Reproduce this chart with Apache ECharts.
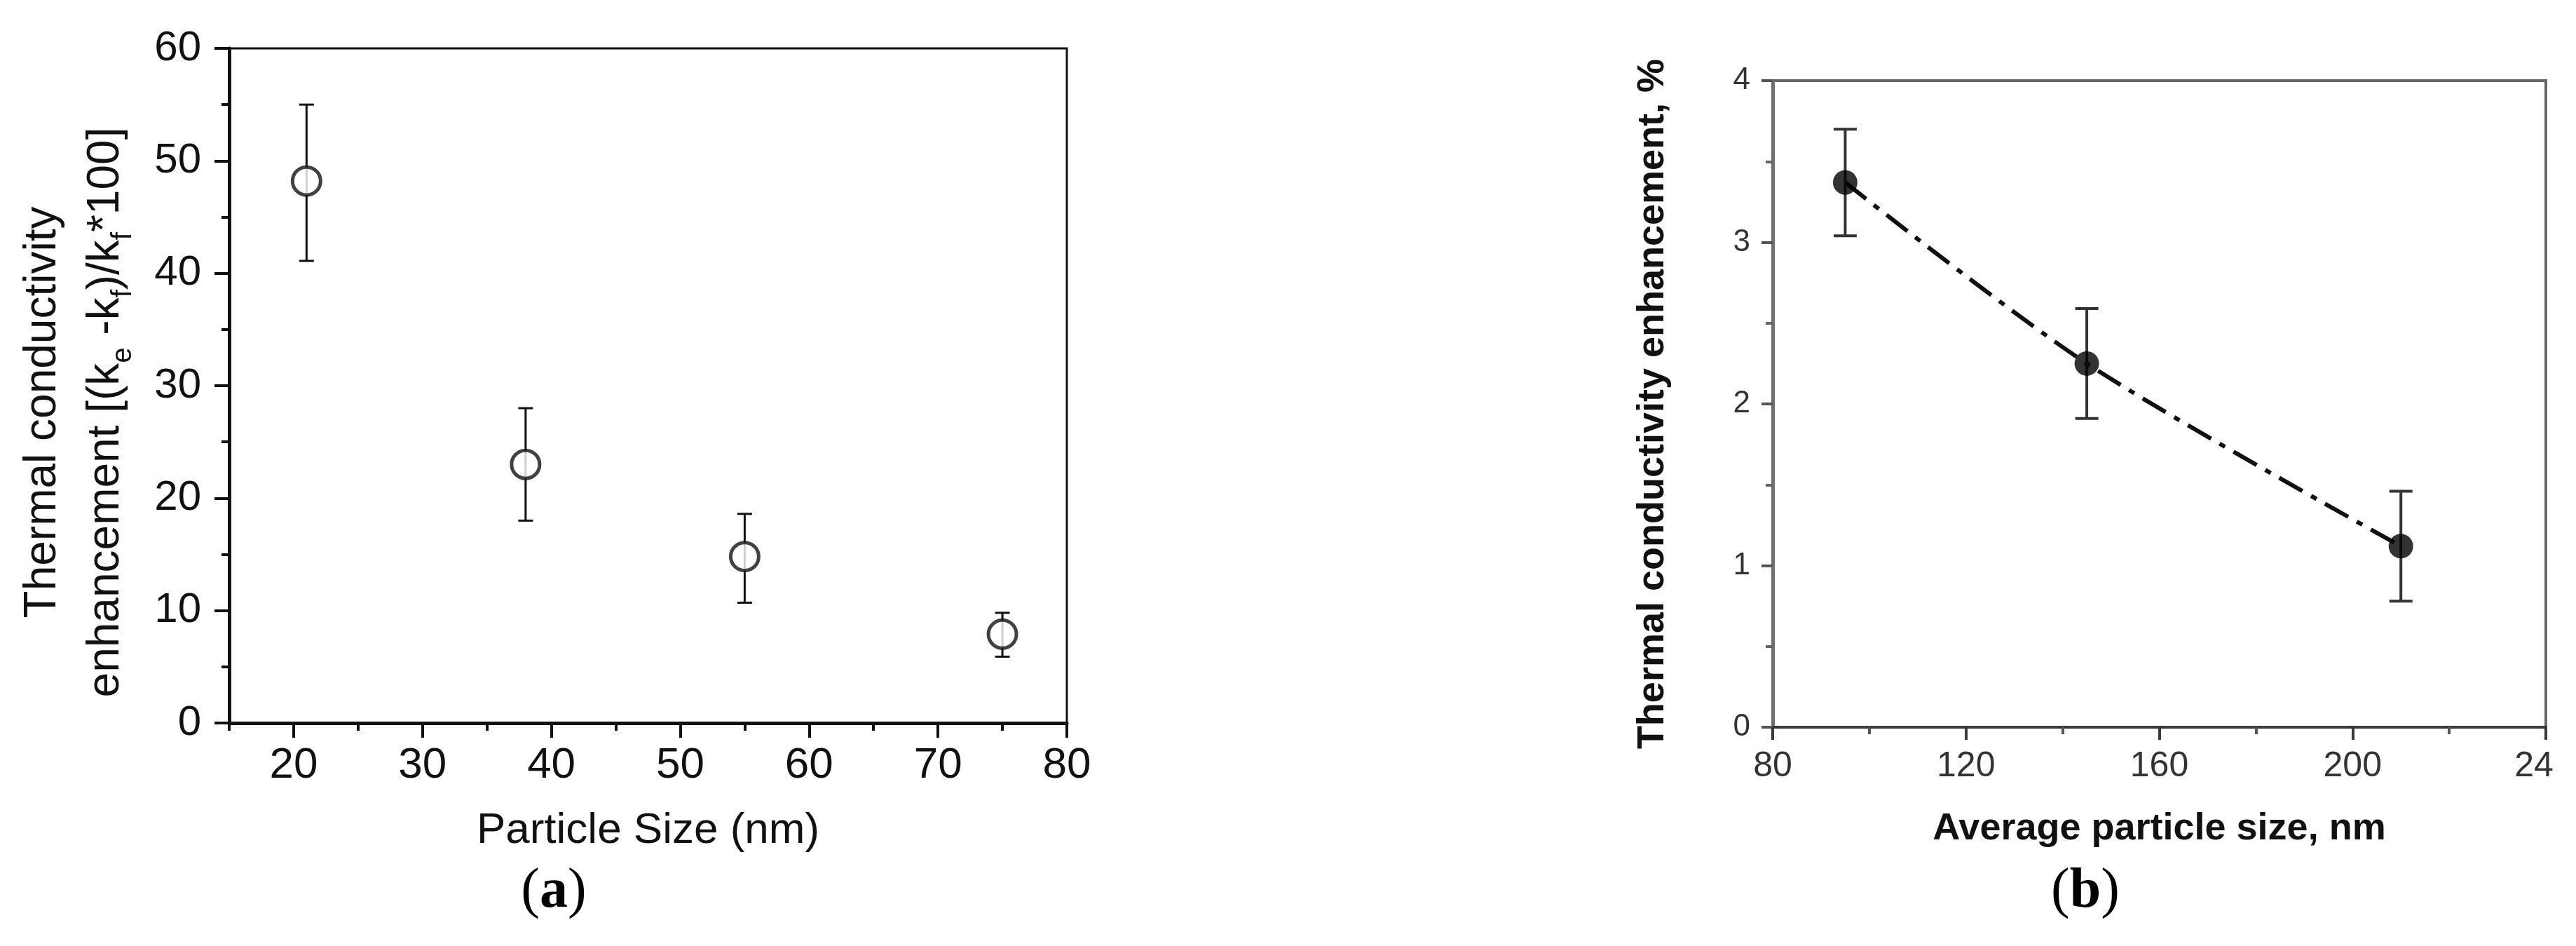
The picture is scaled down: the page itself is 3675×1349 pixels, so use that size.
<!DOCTYPE html>
<html>
<head>
<meta charset="utf-8">
<title>Thermal conductivity enhancement vs particle size</title>
<script src="https://cdn.jsdelivr.net/npm/echarts@6/dist/echarts.min.js"></script>
<style>
  html, body { margin: 0; padding: 0; background: #fff; }
  #chart { width: 3675px; height: 1349px; }
</style>
</head>
<body>
<div id="chart"></div>
<script>
// (a) particle size vs enhancement, open circles with error bars
var sizeA = [21, 38, 55, 75];
var enhA = [48.2, 23.0, 14.8, 7.9];
var lowA = [41.1, 18.0, 10.7, 5.9];
var highA = [55.0, 28.0, 18.6, 9.8];
var xMajorA = [20, 30, 40, 50, 60, 70, 80];

// (b) average particle size vs enhancement, filled circles + dash-dot curve
var sizeB = [95, 145, 210];
var enhB = [3.37, 2.25, 1.12];
var lowB = [3.04, 1.91, 0.78];
var highB = [3.70, 2.59, 1.46];
var xTicksB = [80, 120, 160, 200, 240];
var xTickTextB = ['80', '120', '160', '200', '24'];

(function () {
  var font = "'Liberation Sans', Arial, sans-serif";
  var serif = "'Liberation Serif', 'Times New Roman', serif";

  function pairs(xs, ys) {
    var out = [];
    for (var i = 0; i < xs.length; i++) out.push([xs[i], ys[i]]);
    return out;
  }
  function bars(xs, lo, hi) {
    var out = [];
    for (var i = 0; i < xs.length; i++) out.push([xs[i], lo[i], hi[i]]);
    return out;
  }

  // 误差棒：竖线 + 上下横帽
  function errorBar(color, width, cap) {
    return function (params, api) {
      var x = api.value(0);
      var lo = api.coord([x, api.value(1)]);
      var hi = api.coord([x, api.value(2)]);
      var st = { stroke: color, lineWidth: width };
      return {
        type: 'group',
        children: [
          { type: 'line', shape: { x1: lo[0], y1: lo[1], x2: hi[0], y2: hi[1] }, style: st },
          { type: 'line', shape: { x1: lo[0] - cap, y1: lo[1], x2: lo[0] + cap, y2: lo[1] }, style: st },
          { type: 'line', shape: { x1: hi[0] - cap, y1: hi[1], x2: hi[0] + cap, y2: hi[1] }, style: st }
        ]
      };
    };
  }

  var chart = echarts.init(document.getElementById('chart'));
  var option = {
    animation: false,
    backgroundColor: '#fff',
    grid: [
      { left: 327, top: 69, width: 1195, height: 962, show: true, borderColor: '#111', borderWidth: 3 },
      { left: 2529, top: 115, width: 1103, height: 922, show: true, borderColor: '#666', borderWidth: 4 }
    ],
    xAxis: [
      {
        gridIndex: 0, type: 'value', position: 'bottom', min: 15, max: 80, interval: 5,
        name: 'Particle Size (nm)', nameLocation: 'middle', nameGap: 123,
        nameTextStyle: { fontFamily: font, fontSize: 62, color: '#111' },
        axisLine: { onZero: false, lineStyle: { color: '#111', width: 5 } },
        axisTick: { length: 11, lineStyle: { color: '#111', width: 4 } },
        axisLabel: {
          margin: 30, fontFamily: font, fontSize: 62, color: '#111', showMinLabel: true, showMaxLabel: true,
          formatter: function (v) { return xMajorA.indexOf(v) >= 0 ? String(v) : ''; }
        },
        splitLine: { show: false }
      },
      {
        // long major ticks for panel (a)
        gridIndex: 0, type: 'value', position: 'bottom', min: 15, max: 80, splitNumber: 6,
        axisLine: { show: false },
        axisTick: { length: 21, customValues: xMajorA, lineStyle: { color: '#111', width: 4 } },
        axisLabel: { show: false },
        splitLine: { show: false }
      },
      {
        gridIndex: 1, type: 'value', position: 'bottom', min: 80, max: 240, interval: 40,
        name: 'Average particle size, nm', nameLocation: 'middle', nameGap: 118,
        nameTextStyle: { fontFamily: font, fontSize: 54, fontWeight: 'bold', color: '#111' },
        axisLine: { onZero: false, lineStyle: { color: '#3a3a3a', width: 4 } },
        axisTick: { length: 18, lineStyle: { color: '#3a3a3a', width: 4 } },
        minorTick: { show: true, splitNumber: 2, length: 10, lineStyle: { color: '#555', width: 4 } },
        axisLabel: {
          margin: 31, fontFamily: font, fontSize: 50, color: '#333', showMinLabel: true, showMaxLabel: true,
          formatter: function (v) {
            var i = xTicksB.indexOf(v);
            if (i < 0) return '';
            return i === xTicksB.length - 1 ? '{cut|' + xTickTextB[i] + '}' : xTickTextB[i];
          },
          rich: { cut: { fontFamily: font, fontSize: 50, color: '#333', padding: [0, 34, 0, 0] } }
        },
        splitLine: { show: false }
      }
    ],
    yAxis: [
      {
        gridIndex: 0, type: 'value', min: 0, max: 60, interval: 10,
        name: 'Thermal conductivity\nenhancement [(k{sub|e} -k{sub|f})/k{sub|f}*100]',
        nameLocation: 'middle', nameGap: 131,
        nameTextStyle: {
          fontFamily: font, fontSize: 64, lineHeight: 90, color: '#111', padding: [0, 76, 0, 0],
          rich: { sub: { fontFamily: font, fontSize: 40, lineHeight: 40, verticalAlign: 'bottom', color: '#111' } }
        },
        axisLine: { onZero: false, lineStyle: { color: '#111', width: 5 } },
        axisTick: { length: 21, lineStyle: { color: '#111', width: 4 } },
        minorTick: { show: true, splitNumber: 2, length: 11, lineStyle: { color: '#111', width: 4 } },
        axisLabel: { margin: 40, fontFamily: font, fontSize: 60, color: '#111' },
        splitLine: { show: false }
      },
      {
        gridIndex: 1, type: 'value', min: 0, max: 4, interval: 1,
        name: 'Thermal conductivity enhancement, %', nameLocation: 'middle', nameGap: 144,
        nameTextStyle: { fontFamily: font, fontSize: 54, fontWeight: 'bold', color: '#111' },
        axisLine: { onZero: false, lineStyle: { color: '#707070', width: 5 } },
        axisTick: { length: 16, lineStyle: { color: '#555', width: 4 } },
        minorTick: { show: true, splitNumber: 2, length: 10, lineStyle: { color: '#666', width: 4 } },
        axisLabel: { margin: 32, fontFamily: font, fontSize: 44, color: '#333' },
        splitLine: { show: false }
      }
    ],
    series: [
      {
        type: 'custom', xAxisIndex: 0, yAxisIndex: 0, z: 2,
        renderItem: errorBar('#111', 3, 10.5),
        data: bars(sizeA, lowA, highA)
      },
      {
        type: 'scatter', xAxisIndex: 0, yAxisIndex: 0, z: 3,
        symbol: 'circle', symbolSize: 40,
        itemStyle: { color: '#fff', borderColor: '#111', borderWidth: 5 },
        data: pairs(sizeA, enhA)
      },
      {
        type: 'line', xAxisIndex: 2, yAxisIndex: 1, z: 1,
        smooth: 0.3, showSymbol: false, symbol: 'none',
        lineStyle: { color: '#111', width: 6, type: [38, 14, 9, 14] },
        data: pairs(sizeB, enhB)
      },
      {
        type: 'custom', xAxisIndex: 2, yAxisIndex: 1, z: 2,
        renderItem: errorBar('#333', 4, 16.5),
        data: bars(sizeB, lowB, highB)
      },
      {
        type: 'scatter', xAxisIndex: 2, yAxisIndex: 1, z: 3,
        symbol: 'circle', symbolSize: 35,
        itemStyle: { color: '#000' },
        data: pairs(sizeB, enhB)
      }
    ],
    graphic: [
      {
        type: 'text', x: 790, y: 1272,
        style: {
          text: '({b|a})', fontFamily: serif, fontSize: 80, fill: '#000', align: 'center', verticalAlign: 'middle',
          rich: { b: { fontFamily: serif, fontSize: 80, fontWeight: 'bold', fill: '#000' } }
        }
      },
      {
        type: 'text', x: 2975, y: 1272,
        style: {
          text: '({b|b})', fontFamily: serif, fontSize: 80, fill: '#000', align: 'center', verticalAlign: 'middle',
          rich: { b: { fontFamily: serif, fontSize: 80, fontWeight: 'bold', fill: '#000' } }
        }
      }
    ]
  };
  chart.setOption(option);
}());
</script>
</body>
</html>
